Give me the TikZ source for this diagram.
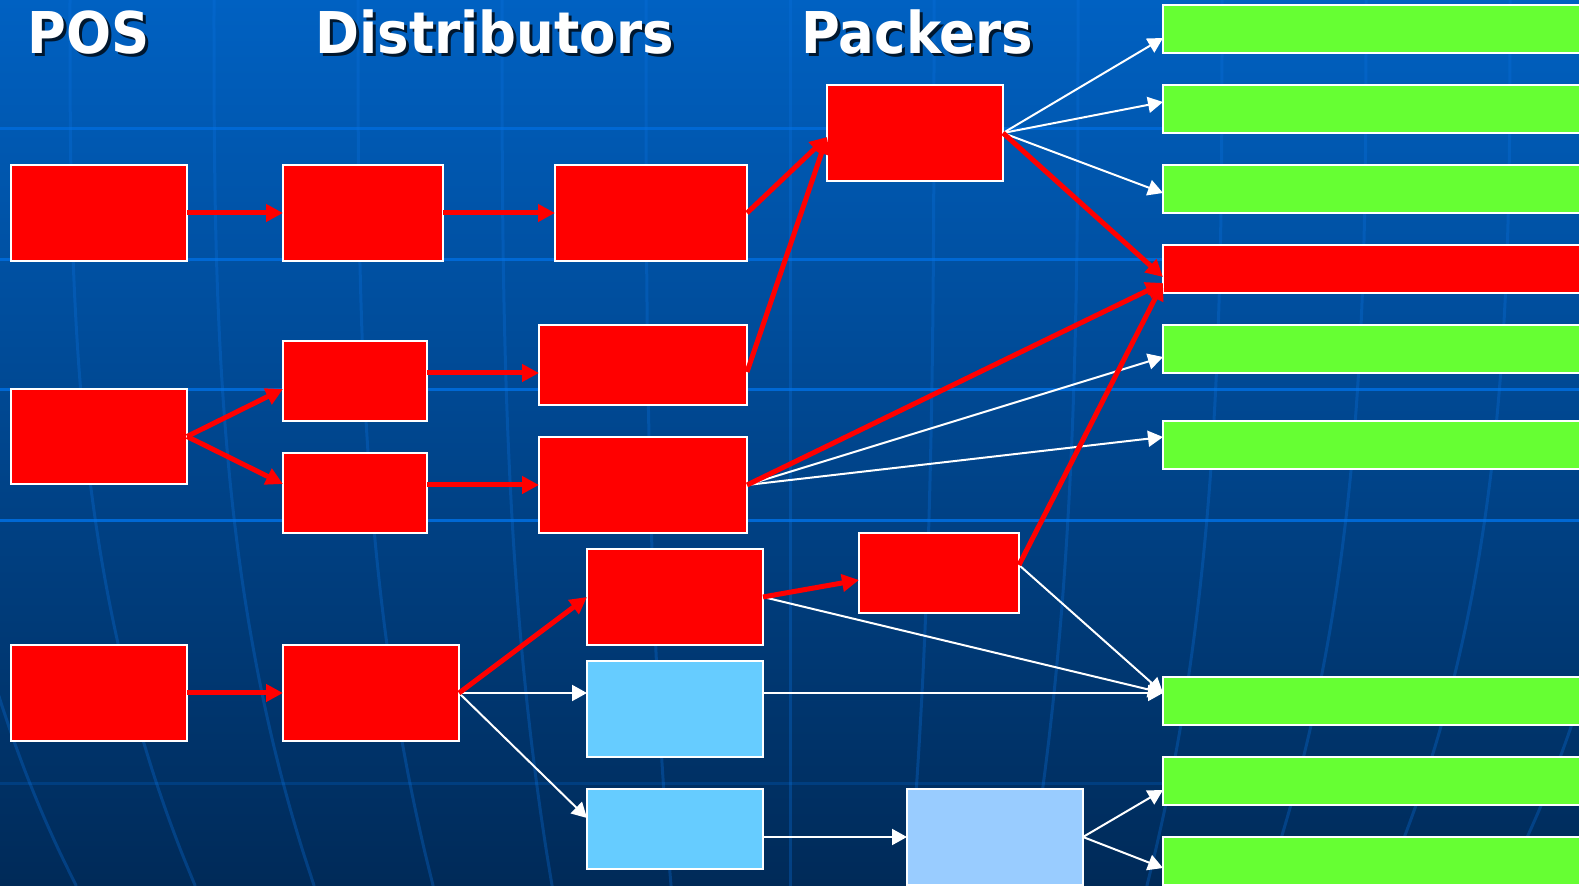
\documentclass[tikz,border=0pt]{standalone}
\usepackage{fontspec}
\newfontfamily\titlefont{DejaVu Sans}[FakeStretch=0.92]
\usetikzlibrary{arrows.meta,calc}

\definecolor{bgtop}{RGB}{0,97,194}
\definecolor{bgmid}{RGB}{0,72,146}
\definecolor{bgbottom}{RGB}{0,42,88}
\definecolor{gridblue}{RGB}{0,104,212}
\definecolor{boxred}{RGB}{255,0,0}
\definecolor{boxsky}{RGB}{102,204,255}
\definecolor{boxpale}{RGB}{153,204,255}
\definecolor{bargreen}{RGB}{102,255,51}

\tikzset{
  box/.style={draw=white, line width=1pt, inner sep=0pt, outer sep=0pt},
  redbox/.style={box, fill=boxred},
  skybox/.style={box, fill=boxsky},
  palebox/.style={box, fill=boxpale},
  bar/.style={box, minimum width=212pt, minimum height=24pt},
  greenbar/.style={bar, fill=bargreen},
  redbar/.style={bar, fill=boxred},
  redflow/.style={draw=boxred, line width=2.5pt, -{Triangle[length=8.5pt,width=8.5pt]}},
  whiteflow/.style={draw=white, line width=1pt, -{Triangle[length=7.5pt,width=8pt]}},
  heading/.style={anchor=base west, inner sep=0pt, text=white, font=\titlefont\bfseries\fontsize{28.8}{30}\selectfont},
  headshadow/.style={heading, text=black, opacity=0.75},
  gridline/.style={draw=gridblue, line width=1.5pt},
  meridian/.style={draw={rgb,255:red,10;green,115;blue,225}, line width=1.5pt, opacity=0.3}
}

\begin{document}
\begin{tikzpicture}[x=0.5pt,y=0.5pt,yscale=-1]
\useasboundingbox (0,0) rectangle (1579,886);
\clip (0,0) rectangle (1579,886);

%Background
\shade [top color=bgtop, middle color=bgmid, bottom color=bgbottom] (0,0) rectangle (1579,886);
\foreach \gy in {129,260,390,521}
  \draw [gridline] (0,\gy) -- (1579,\gy);
\draw [gridline, opacity=0.25] (0,783) -- (1579,783);
\foreach \k in {-6,...,6}
  \draw [meridian] plot[domain=0:886, samples=25, smooth, variable=\t] ({790+144*\k*(1-0.174*(\t/886)^3)}, \t);

% Headings
\node [headshadow] (posS) at (30,57) {POS};
\node [heading] (posT) at (27,54) {POS};
\node [headshadow] (distS) at (318,57) {Distributors};
\node [heading] (distT) at (315,54) {Distributors};
\node [headshadow] (packS) at (804,57) {Packers};
\node [heading] (packT) at (801,54) {Packers};

% POS
\node [redbox, minimum width=88pt, minimum height=48pt] (P1) at (99,213) {};
\node [redbox, minimum width=88pt, minimum height=47.5pt] (P2) at (99,436.5) {};
\node [redbox, minimum width=88pt, minimum height=48pt] (P3) at (99,693) {};

% Distributors, first tier
\node [redbox, minimum width=80pt, minimum height=48pt] (D1) at (363,213) {};
\node [redbox, minimum width=72pt, minimum height=40pt] (D2) at (355,381) {};
\node [redbox, minimum width=72pt, minimum height=40pt] (D3) at (355,493) {};
\node [redbox, minimum width=88pt, minimum height=48pt] (D4) at (371,693) {};

% Distributors, second tier
\node [redbox, minimum width=96pt, minimum height=48pt] (E1) at (651,213) {};
\node [redbox, minimum width=104pt, minimum height=40pt] (E2) at (643,365) {};
\node [redbox, minimum width=104pt, minimum height=48pt] (E3) at (643,485) {};
\node [redbox, minimum width=88pt, minimum height=48pt] (E4) at (675,597) {};
\node [skybox, minimum width=88pt, minimum height=48pt] (E5) at (675,709) {};
\node [skybox, minimum width=88pt, minimum height=40pt] (E6) at (675,829) {};

% Packers
\node [redbox, minimum width=88pt, minimum height=48pt] (K1) at (915,133) {};
\node [redbox, minimum width=80pt, minimum height=40pt] (K2) at (939,573) {};
\node [palebox, minimum width=88pt, minimum height=48pt] (K3) at (995,837) {};

% Outlets
\node [greenbar] (G1) at (1375,29) {};
\node [greenbar] (G2) at (1375,109) {};
\node [greenbar] (G3) at (1375,189) {};
\node [redbar] (R4) at (1375,269) {};
\node [greenbar] (G5) at (1375,349) {};
\node [greenbar] (G6) at (1375,445) {};
\node [greenbar] (G7) at (1375,701) {};
\node [greenbar] (G8) at (1375,781) {};
\node [greenbar] (G9) at (1375,861) {};

%White flows
\draw [whiteflow] (K1.east) -- ($(G1.west)+(0,9)$);
\draw [whiteflow] (K1.east) -- ($(G2.west)+(0,-7)$);
\draw [whiteflow] (K1.east) -- ($(G3.west)+(0,4)$);
\draw [whiteflow] (E3.east) -- ($(G5.west)+(0,8)$);
\draw [whiteflow] (E3.east) -- ($(G6.west)+(0,-8)$);
\draw [whiteflow] (E4.east) -- ($(G7.west)+(0,-8)$);
\draw [whiteflow] ($(K2.east)+(0,-8)$) -- ($(G7.west)+(0,-8)$);
\draw [whiteflow] (D4.east) -- (D4.east -| E5.west);
\draw [whiteflow] (D4.east) -- ($(E6.west)+(0,-11)$);
\draw [whiteflow] (E5.east |- D4.east) -- ($(G7.west)+(0,-8)$);
\draw [whiteflow] ($(E6.east)+(0,8)$) -- (K3.west);
\draw [whiteflow] (K3.east) -- ($(G8.west)+(0,9)$);
\draw [whiteflow] (K3.east) -- ($(G9.west)+(0,7)$);

%Red flows
\draw [redflow] (P1.east) -- (D1.west);
\draw [redflow] (D1.east) -- (E1.west);
\draw [redflow] (E1.east) -- ($(K1.west)+(0,4)$);
\draw [redflow] ($(E2.east)+(0,7)$) -- ($(K1.west)+(0,4)$);
\draw [redflow] (K1.east) -- ($(R4.west)+(0,8)$);
\draw [redflow] (P2.east) -- ($(D2.west)+(0,8)$);
\draw [redflow] (P2.east) -- ($(D3.west)+(0,-9)$);
\draw [redflow] ($(D2.east)+(0,-8)$) -- ($(E2.west)+(0,8)$);
\draw [redflow] ($(D3.east)+(0,-8)$) -- (E3.west);
\draw [redflow] (E3.east) -- ($(R4.west)+(0,14)$);
\draw [redflow] ($(K2.east)+(0,-8)$) -- ($(R4.west)+(0,14)$);
\draw [redflow] (P3.east) -- (D4.west);
\draw [redflow] (D4.east) -- (E4.west);
\draw [redflow] (E4.east) -- ($(K2.west)+(0,7)$);
\end{tikzpicture}
\end{document}
